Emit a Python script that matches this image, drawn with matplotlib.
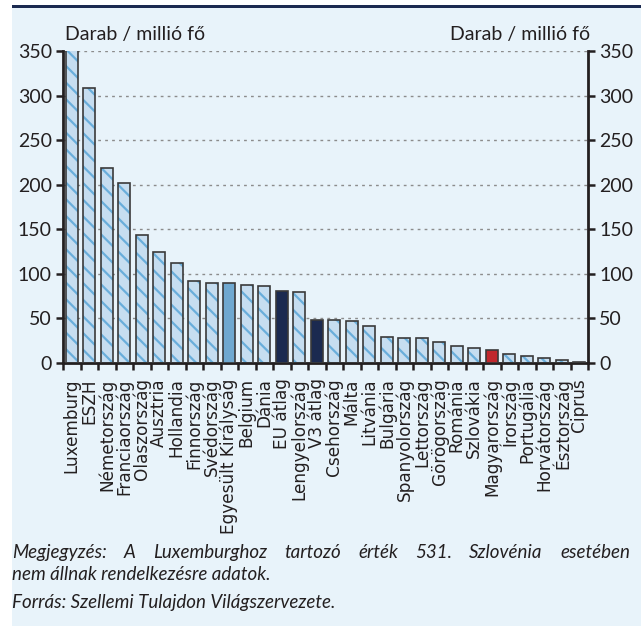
import matplotlib
matplotlib.use('Agg')
import matplotlib.pyplot as plt
from matplotlib.patches import Rectangle
import numpy as np

plt.rcParams['font.family'] = ['Lato', 'DejaVu Sans']
plt.rcParams['hatch.linewidth'] = 1.6

## Data
countries = ['Luxemburg', 'ESZH', 'Németország', 'Franciaország', 'Olaszország',
             'Ausztria', 'Hollandia', 'Finnország', 'Svédország', 'Egyesült Királyság',
             'Belgium', 'Dánia', 'EU átlag', 'Lengyelország', 'V3 átlag',
             'Csehország', 'Málta', 'Litvánia', 'Bulgária', 'Spanyolország',
             'Lettország', 'Görögország', 'Románia', 'Szlovákia', 'Magyarország',
             'Írország', 'Portugália', 'Horvátország', 'Észtország', 'Ciprus']
values = [531, 308, 219, 202, 144, 125, 112, 92, 89.5, 89.5,
          87, 86, 81, 80, 48, 48, 47, 41, 29, 27.6,
          27.6, 23, 19, 17, 14.6, 10.5, 8, 6, 3.7, 1]
# bar style: h = hatched, uk = highlighted, avg = averages, hu = Hungary
kinds = ['h'] * 9 + ['uk'] + ['h', 'h', 'avg', 'h', 'avg'] + ['h'] * 9 + ['hu'] + ['h'] * 5

yticks = [0, 50, 100, 150, 200, 250, 300, 350]
unit_label = 'Darab / millió fő'
note1 = 'Megjegyzés: A Luxemburghoz tartozó érték 531. Szlovénia esetében'
note2 = 'nem állnak rendelkezésre adatok.'
source = 'Forrás: Szellemi Tulajdon Világszervezete.'

bg = '#E8F3FA'
navy = '#1B2A50'
txt = '#231F20'
solid = {'uk': '#6FA8D0', 'avg': navy, 'hu': '#C1272D'}

W, H = 641, 626
fig = plt.figure(figsize=(W / 100, H / 100), dpi=100)
fig.patch.set_facecolor('white')
fig.patches.append(Rectangle((12 / W, 0), 1, 1 - 8 / H, transform=fig.transFigure,
                             facecolor=bg, edgecolor='none', zorder=-10))
fig.patches.append(Rectangle((12 / W, 1 - 8 / H), 1, 3 / H, transform=fig.transFigure,
                             facecolor=navy, edgecolor='none', zorder=-9))

ax = fig.add_axes([63 / W, 1 - 363 / H, 525 / W, 312 / H])
ax.set_facecolor('none')

x = np.arange(len(countries))
w = 0.68
for xi, v, k in zip(x, values, kinds):
    if k == 'h':
        ax.bar(xi, v, w, color='#C6DDF0', edgecolor='#6AAEDB', hatch='\\\\', linewidth=0, zorder=2)
        ax.bar(xi, v, w, color='none', edgecolor='#3A3A3A', linewidth=1.2, zorder=3)
    else:
        ax.bar(xi, v, w, color=solid[k], edgecolor='#3A3A3A', linewidth=1.2, zorder=3)

ax.set_xlim(-0.5, len(countries) - 0.5)
ax.set_ylim(0, 350)
ax.set_yticks(yticks)
ax.yaxis.grid(True, linestyle=(0, (2, 3)), color='#8C8C8C', linewidth=1)
ax.set_axisbelow(True)

ax.set_xticks(x)
ax.set_xticklabels(countries, rotation=90, fontsize=12.2, family='DejaVu Sans', color=txt)
ax.set_xticks(np.arange(-0.5, len(countries)), minor=True)
ax.tick_params(axis='x', which='major', length=0, pad=11)
ax.tick_params(axis='x', which='minor', length=5, width=1.8, color='#231F20')
ax.tick_params(axis='y', length=5, width=1.8, labelsize=14, colors=txt, pad=3)

for s in ['left', 'bottom']:
    ax.spines[s].set_linewidth(2)
    ax.spines[s].set_color('#231F20')
ax.spines['top'].set_visible(False)
ax.spines['right'].set_visible(False)

ax2 = ax.twinx()
ax2.set_ylim(0, 350)
ax2.set_yticks(yticks)
ax2.tick_params(axis='y', length=5, width=1.8, labelsize=14, colors=txt, pad=3)
ax2.spines['right'].set_linewidth(2)
ax2.spines['right'].set_color('#231F20')
for s in ['left', 'top', 'bottom']:
    ax2.spines[s].set_visible(False)

fig.text(65 / W, 1 - 40 / H, unit_label, fontsize=14, color=txt, ha='left', va='baseline')
fig.text(590 / W, 1 - 40 / H, unit_label, fontsize=14, color=txt, ha='right', va='baseline')

renderer = fig.canvas.get_renderer()
note_size = 13.5

# justified first line of the note
words = note1.split(' ')
left, right = 12, 630
objs = [fig.text(0, 1 - 558 / H, wd, fontsize=note_size, style='italic', color=txt,
                 ha='left', va='baseline') for wd in words]
widths = [o.get_window_extent(renderer).width for o in objs]
gap = (right - left - sum(widths)) / (len(words) - 1)
pos = left
for o, wd in zip(objs, widths):
    o.set_x(pos / W)
    pos += wd + gap

fig.text(12 / W, 1 - 580 / H, note2, fontsize=note_size, style='italic', color=txt, ha='left', va='baseline')
fig.text(12 / W, 1 - 608 / H, source, fontsize=note_size, style='italic', color=txt, ha='left', va='baseline')

fig.savefig('out.png', dpi=100, facecolor=fig.get_facecolor())
